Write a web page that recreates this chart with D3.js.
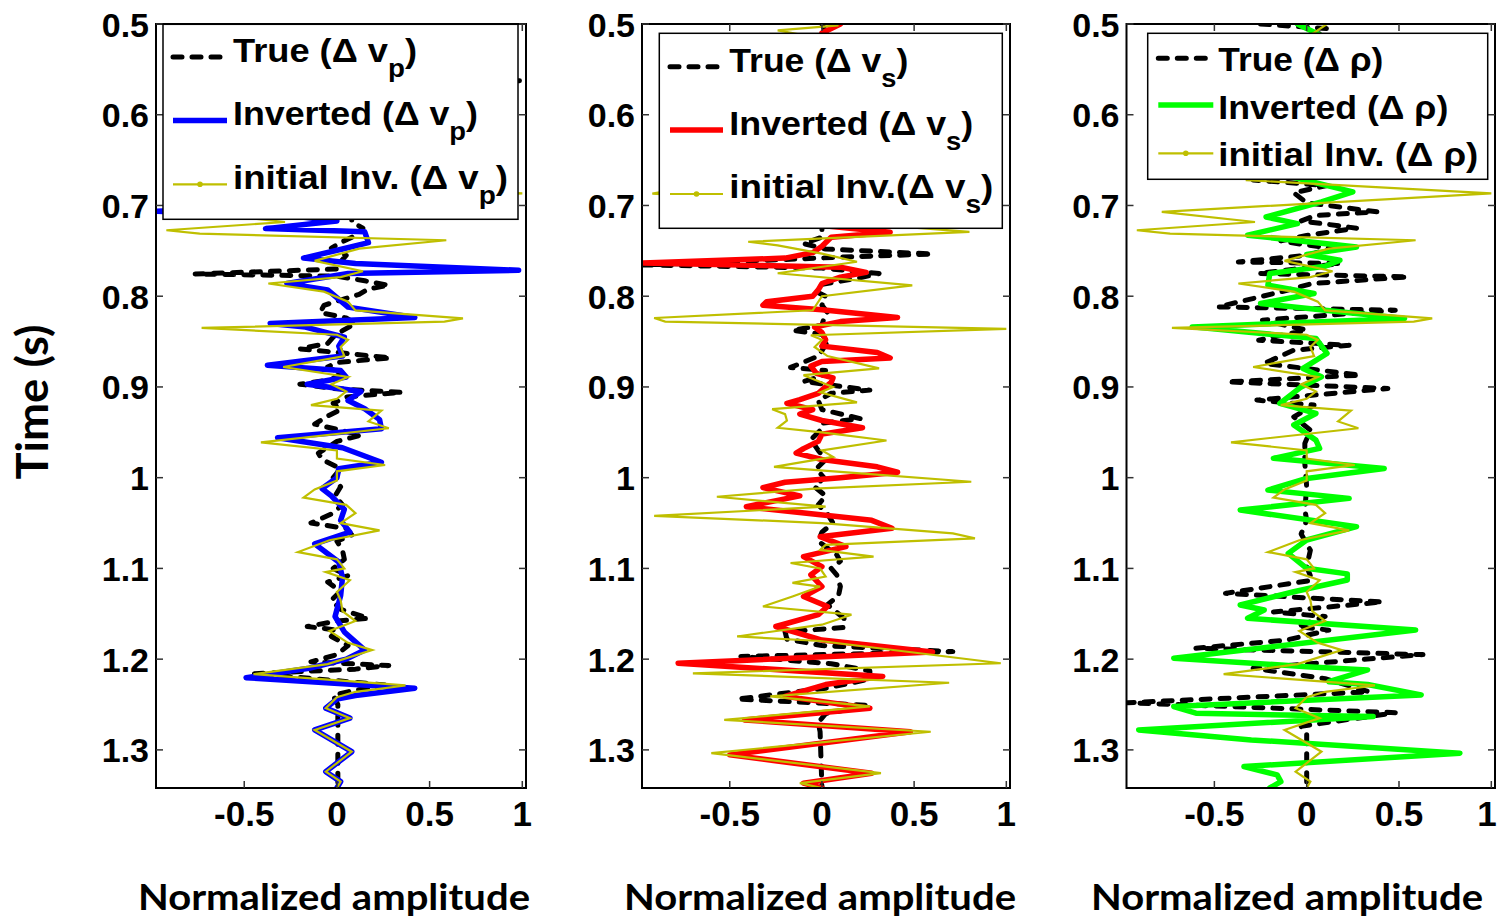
<!DOCTYPE html>
<html><head><meta charset="utf-8">
<script src="https://cdnjs.cloudflare.com/ajax/libs/d3/7.8.5/d3.min.js"></script>
<style>body{margin:0;background:#fff}svg{display:block}</style>
</head><body><svg id="c" width="1499" height="918"></svg>
<script>
// ---------------- DATA (time [s], normalized amplitude) ----------------
const yTicks = [0.5,0.6,0.7,0.8,0.9,1.0,1.1,1.2,1.3];
const yTickLabels = ["0.5","0.6","0.7","0.8","0.9","1","1.1","1.2","1.3"];
const xTicks = [-0.5,0,0.5,1];
const xTickLabels = ["-0.5","0","0.5","1"];

const trueVp = [[0.50,0.02],[0.53,-0.10],[0.545,0.15],[0.560,0.30],[0.5625,1.0],[0.565,0.05],[0.60,-0.2],[0.63,0.10],[0.66,-0.15],[0.69,0.12],[0.712,0.08],
[0.718,0.08],[0.725,0.14],[0.733,0.10],[0.740,0.03],[0.747,-0.03],[0.755,0.05],[0.762,0.02],[0.770,0.0],[0.7755,-0.765],[0.778,0.0],[0.783,0.15],[0.788,0.28],[0.792,0.17],[0.798,0.12],[0.803,0.04],[0.810,-0.07],[0.818,-0.09],[0.824,0.05],[0.830,0.10],[0.838,0.03],[0.845,-0.02],[0.852,-0.05],[0.858,-0.2],[0.862,0.0],[0.868,0.29],[0.873,0.0],[0.878,-0.05],[0.885,0.02],[0.892,-0.03],[0.897,-0.2],[0.902,0.0],[0.906,0.35],[0.911,0.05],[0.918,-0.02],[0.925,0.02],[0.932,-0.05],[0.941,-0.12],[0.953,0.13],[0.960,0.0],[0.973,-0.10],[0.980,-0.08],[0.990,0.02],[1.0,-0.02],[1.01,0.02],[1.02,-0.01],[1.03,0.03],[1.04,-0.03],[1.05,-0.14],[1.056,0.05],[1.063,0.08],[1.070,0.0],[1.08,0.03],[1.09,0.04],[1.10,-0.02],[1.108,0.06],[1.115,-0.05],[1.125,0.02],[1.135,-0.03],[1.145,0.02],[1.155,0.17],[1.158,0.0],[1.164,-0.16],[1.168,0.0],[1.175,-0.03],[1.185,0.06],[1.195,0.0],[1.203,-0.14],[1.207,0.28],[1.211,0.1],[1.216,-0.45],[1.222,-0.1],[1.229,0.29],[1.234,0.1],[1.24,-0.02],[1.25,0.005],[1.342,0.005]];

const invVp = [[0.50,0.0],[0.52,0.12],[0.545,-0.2],[0.57,0.25],[0.60,-0.15],[0.63,0.2],[0.66,-0.25],[0.685,0.15],[0.70,-0.3],[0.7065,-0.97],[0.7125,-0.2],[0.717,0.0],[0.7255,-0.385],[0.729,0.15],[0.741,0.17],[0.748,0.03],[0.758,-0.18],[0.764,0.1],[0.7714,0.98],[0.775,0.06],[0.786,-0.27],[0.793,-0.05],[0.812,0.06],[0.8235,0.42],[0.830,-0.36],[0.834,-0.17],[0.845,0.04],[0.855,0.01],[0.866,0.03],[0.876,-0.375],[0.882,0.02],[0.889,0.05],[0.897,-0.16],[0.905,0.13],[0.915,0.06],[0.924,0.15],[0.936,0.23],[0.946,0.24],[0.956,-0.32],[0.967,0.03],[0.983,0.24],[0.99,0.01],[1.0,0.0],[1.012,-0.08],[1.02,-0.03],[1.035,0.04],[1.047,0.02],[1.06,0.07],[1.073,-0.12],[1.093,0.01],[1.11,0.03],[1.13,0.02],[1.153,-0.01],[1.17,0.04],[1.19,0.15],[1.20,0.05],[1.21,-0.15],[1.2204,-0.49],[1.232,0.42],[1.24,0.1],[1.244,0.0],[1.254,-0.06],[1.265,0.07],[1.278,-0.12],[1.302,0.08],[1.324,-0.06],[1.335,0.02],[1.342,0.0]];

const initVp = [[0.500,0.11],[0.515,0.0],[0.53,-0.15],[0.55,0.2],[0.575,-0.25],[0.60,0.18],[0.625,-0.12],[0.65,0.22],[0.66,0.0],[0.672,-0.33],[0.6866,1.0],[0.7071,-0.785],[0.7182,-0.28],[0.7273,-0.92],[0.731,-0.74],[0.7383,0.59],[0.7475,0.12],[0.761,-0.12],[0.7725,0.14],[0.779,0.02],[0.786,-0.37],[0.795,-0.07],[0.806,0.06],[0.8156,0.10],[0.8245,0.68],[0.828,0.58],[0.835,-0.73],[0.8425,0.0],[0.848,0.06],[0.856,0.02],[0.866,0.04],[0.878,-0.29],[0.889,0.06],[0.897,-0.03],[0.905,0.05],[0.913,0.0],[0.92,-0.14],[0.926,0.24],[0.938,0.17],[0.9455,0.28],[0.961,-0.41],[0.97,0.0],[0.979,0.0],[0.986,0.26],[0.993,0.0],[1.003,0.0],[1.013,-0.12],[1.022,-0.18],[1.03,0.05],[1.039,0.10],[1.05,0.02],[1.058,0.23],[1.069,-0.04],[1.082,-0.21],[1.09,0.0],[1.10,0.04],[1.104,-0.06],[1.113,0.07],[1.126,0.0],[1.135,0.02],[1.147,0.03],[1.158,0.10],[1.169,-0.04],[1.182,0.06],[1.19,0.19],[1.2055,-0.05],[1.2165,-0.45],[1.229,0.37],[1.236,0.1],[1.242,0.0],[1.254,-0.06],[1.265,0.07],[1.278,-0.12],[1.302,0.08],[1.324,-0.06],[1.335,0.02],[1.342,0.0]];

const trueVs = [[0.5,0.0],[0.52,0.05],[0.55,-0.1],[0.58,0.1],[0.62,-0.05],[0.66,0.08],[0.70,-0.1],[0.72,0.0],[0.735,0.0],[0.742,-0.1],[0.748,0.02],[0.7535,0.6],[0.757,0.1],[0.762,-0.5],[0.7655,-0.97],[0.769,0.0],[0.775,0.31],[0.78,0.2],[0.787,0.0],[0.795,-0.03],[0.80,0.02],[0.81,0.0],[0.818,0.03],[0.825,0.01],[0.832,0.0],[0.8375,-0.16],[0.842,0.0],[0.85,0.03],[0.86,0.0],[0.866,-0.02],[0.8785,-0.17],[0.882,0.02],[0.888,0.0],[0.894,-0.1],[0.9035,0.26],[0.907,0.05],[0.915,-0.02],[0.925,0.0],[0.935,0.21],[0.94,0.0],[0.948,-0.01],[0.958,-0.06],[0.97,-0.02],[0.98,0.02],[0.99,-0.03],[1.0,0.01],[1.01,-0.04],[1.02,0.02],[1.03,-0.02],[1.04,0.03],[1.05,0.06],[1.06,0.0],[1.07,-0.02],[1.085,0.08],[1.092,0.10],[1.10,0.05],[1.107,0.08],[1.12,0.10],[1.13,0.09],[1.14,0.03],[1.155,0.12],[1.165,0.12],[1.17,-0.2],[1.178,-0.19],[1.185,0.0],[1.1917,0.71],[1.197,-0.44],[1.205,0.05],[1.213,0.26],[1.222,0.26],[1.232,0.02],[1.244,-0.46],[1.251,0.26],[1.26,0.02],[1.27,-0.02],[1.28,-0.01],[1.342,0.0]];

const invVs = [[0.50,0.10],[0.51,0.0],[0.53,0.2],[0.56,-0.3],[0.59,0.25],[0.62,-0.2],[0.65,0.3],[0.68,-0.25],[0.70,0.2],[0.715,-0.1],[0.722,0.0],[0.7295,0.37],[0.735,0.05],[0.745,0.0],[0.752,-0.05],[0.758,-0.2],[0.7635,-0.97],[0.768,0.1],[0.7737,0.24],[0.779,0.1],[0.786,0.0],[0.793,-0.02],[0.80,-0.05],[0.806,-0.3],[0.810,-0.32],[0.815,0.0],[0.8235,0.41],[0.828,0.1],[0.834,-0.04],[0.84,0.0],[0.848,0.02],[0.855,0.0],[0.862,0.3],[0.868,0.37],[0.872,0.0],[0.877,-0.06],[0.885,-0.03],[0.89,0.06],[0.895,0.05],[0.90,0.02],[0.907,-0.02],[0.914,-0.12],[0.918,-0.19],[0.925,-0.05],[0.93,-0.12],[0.937,0.0],[0.945,0.22],[0.952,0.0],[0.96,-0.02],[0.968,-0.1],[0.973,-0.14],[0.98,0.0],[0.988,0.3],[0.994,0.41],[1.0,0.1],[1.005,-0.2],[1.011,-0.32],[1.02,-0.12],[1.032,-0.41],[1.047,0.27],[1.0558,0.38],[1.065,-0.01],[1.076,0.13],[1.087,-0.1],[1.098,0.0],[1.107,-0.06],[1.12,0.0],[1.131,-0.1],[1.142,0.03],[1.151,-0.02],[1.164,-0.25],[1.179,0.0],[1.192,0.6],[1.2045,-0.78],[1.219,0.33],[1.228,0.02],[1.241,-0.2],[1.254,0.26],[1.267,-0.42],[1.28,0.48],[1.3055,-0.5],[1.3257,0.27],[1.3367,-0.1],[1.342,0.0]];

const initVs = [[0.5015,0.09],[0.507,-0.24],[0.52,0.1],[0.55,-0.3],[0.58,0.3],[0.61,-0.25],[0.64,0.35],[0.665,-0.3],[0.687,-0.92],[0.70,0.2],[0.715,-0.1],[0.729,0.8],[0.74,-0.4],[0.744,-0.24],[0.753,0.0],[0.762,0.19],[0.7747,-0.24],[0.788,0.49],[0.80,0.0],[0.8155,-0.05],[0.824,-0.91],[0.828,-0.85],[0.836,1.0],[0.843,-0.06],[0.848,0.0],[0.856,-0.04],[0.866,0.03],[0.8796,0.31],[0.887,-0.1],[0.90,0.06],[0.906,-0.01],[0.917,0.19],[0.9245,-0.27],[0.93,-0.2],[0.937,-0.19],[0.945,-0.24],[0.95,0.0],[0.959,0.35],[0.97,0.0],[0.977,0.06],[0.988,-0.26],[0.995,0.19],[1.0045,0.81],[1.012,-0.04],[1.021,-0.57],[1.032,0.02],[1.042,-0.91],[1.05,0.0],[1.0613,0.71],[1.0668,0.83],[1.074,0.02],[1.0796,-0.01],[1.087,0.28],[1.094,-0.17],[1.10,-0.01],[1.109,0.02],[1.116,-0.16],[1.12,-0.01],[1.131,-0.16],[1.142,-0.32],[1.151,0.16],[1.162,0.0],[1.175,-0.46],[1.18,-0.01],[1.2045,0.97],[1.2156,-0.70],[1.226,0.69],[1.241,-0.28],[1.252,0.26],[1.267,-0.53],[1.28,0.59],[1.3036,-0.6],[1.3257,0.32],[1.3367,-0.12],[1.342,0.0]];

const trueRho = [[0.5,-0.25],[0.505,0.11],[0.52,0.0],[0.55,-0.3],[0.58,0.25],[0.61,-0.2],[0.64,0.3],[0.66,-0.1],[0.672,-0.29],[0.678,0.11],[0.686,-0.07],[0.697,0.0],[0.707,0.38],[0.711,0.05],[0.717,-0.03],[0.725,0.27],[0.733,0.0],[0.739,-0.14],[0.743,-0.02],[0.747,0.14],[0.755,0.0],[0.7622,-0.37],[0.764,0.18],[0.775,-0.26],[0.7787,0.55],[0.786,0.03],[0.7952,-0.14],[0.8118,-0.48],[0.8154,0.48],[0.8264,-0.24],[0.8374,0.0],[0.8485,-0.26],[0.854,0.23],[0.8595,-0.07],[0.8741,-0.23],[0.887,0.29],[0.8944,-0.43],[0.9017,0.44],[0.9145,-0.27],[0.92,0.04],[0.9329,-0.07],[0.9476,0.02],[0.9622,-0.01],[0.9843,-0.01],[1.01,0.0],[1.0355,-0.01],[1.047,0.0],[1.062,-0.03],[1.08,0.02],[1.098,0.0],[1.113,0.03],[1.1275,-0.44],[1.137,0.41],[1.148,-0.18],[1.153,0.1],[1.164,-0.05],[1.168,0.12],[1.179,-0.11],[1.188,-0.6],[1.195,0.63],[1.21,-0.29],[1.2215,0.1],[1.236,0.34],[1.248,-0.97],[1.259,0.48],[1.274,-0.03],[1.282,0.0],[1.342,0.0]];

const invRho = [[0.5,-0.05],[0.52,0.15],[0.55,-0.2],[0.58,0.2],[0.61,-0.25],[0.64,0.2],[0.665,-0.15],[0.6851,0.25],[0.6961,0.08],[0.7127,-0.22],[0.72,-0.05],[0.7328,-0.32],[0.7457,0.27],[0.754,0.0],[0.7604,0.18],[0.767,0.1],[0.775,-0.2],[0.7879,-0.21],[0.797,0.04],[0.808,-0.25],[0.8246,0.53],[0.8338,-0.62],[0.8466,0.05],[0.8631,0.11],[0.8796,-0.02],[0.8889,0.08],[0.90,-0.03],[0.9182,-0.145],[0.9292,0.05],[0.942,-0.07],[0.9586,0.05],[0.9677,0.07],[0.9787,-0.18],[0.9898,0.42],[1.0008,0.0],[1.0137,-0.21],[1.0228,0.23],[1.0357,-0.36],[1.054,0.27],[1.0687,0.0],[1.0834,-0.1],[1.0999,0.0],[1.106,0.22],[1.1128,0.22],[1.1257,-0.07],[1.1403,-0.36],[1.1458,-0.23],[1.155,-0.32],[1.1678,0.59],[1.199,-0.72],[1.2083,0.0],[1.2119,0.33],[1.2248,0.12],[1.228,0.33],[1.2394,0.62],[1.2523,-0.72],[1.2596,-0.6],[1.2633,0.36],[1.278,-0.91],[1.289,-0.3],[1.3036,0.83],[1.3184,-0.34],[1.3275,-0.16],[1.335,-0.14],[1.342,-0.2]];

const initRho = initVp.map(d => [d[0], d[1]]); // same initial trace as in the v_p panel

const legendRows = [
  [{m:"True (Δ v",s:"p",e:")"},{m:"Inverted (Δ v",s:"p",e:")"},{m:"initial Inv. (Δ v",s:"p",e:")"}],
  [{m:"True (Δ v",s:"s",e:")"},{m:"Inverted (Δ v",s:"s",e:")"},{m:"initial Inv.(Δ v",s:"s",e:")"}],
  [{m:"True (Δ ρ)",s:"",e:""},{m:"Inverted (Δ ρ)",s:"",e:""},{m:"initial Inv. (Δ ρ)",s:"",e:""}]
];
const invColors = ["#0000ff","#ff0000","#00ff00"];
const seriesByPanel = [[trueVp,invVp,initVp],[trueVs,invVs,initVs],[trueRho,invRho,initRho]];

// ---------------- LAYOUT ----------------
const TOP = 24, BOTTOM = 788;
const panels = [
  {left:156, right:526, lab:334,
   leg:{x:163,y:24.3,w:355,h:195,s1:173,s2:227,tx:233,base:[61.7,125,189],ly:[57,120.5,184.3],len:[184,245,275]}},
  {left:642, right:1010, lab:820,
   leg:{x:659.3,y:33.3,w:343,h:195,s1:670,s2:723,tx:729.3,base:[71.7,135,198.3],ly:[66.7,130,194],len:[179,244,264]}},
  {left:1126.5, right:1495, lab:1287,
   leg:{x:1147.7,y:33.3,w:340,h:146,s1:1158.3,s2:1213.3,tx:1218.3,base:[71,119,165.7],ly:[58.3,105,153.3],len:[165,230,260]}}
];
const XDOM = [-0.976, 1.02], YDOM = [0.5, 1.342];
const INIT_COLOR = "#bfbf00";
const NUMFONT = "'Liberation Sans', Arial, sans-serif";
const LABFONT = "Lato, 'Open Sans', sans-serif";

const svg = d3.select("#c");
svg.append("rect").attr("width",1499).attr("height",918).attr("fill","#fff");
const y = d3.scaleLinear().domain(YDOM).range([TOP, BOTTOM]);

panels.forEach((p, i) => {
  const x = d3.scaleLinear().domain(XDOM).range([p.left, p.right]);
  const g = svg.append("g");
  const cid = "clip" + i;
  svg.append("defs").append("clipPath").attr("id", cid)
    .append("rect").attr("x", p.left).attr("y", TOP).attr("width", p.right - p.left).attr("height", BOTTOM - TOP);
  const line = d3.line().x(d => x(d[1])).y(d => y(d[0]));
  const [tr, inv, ini] = seriesByPanel[i];
  const lg = g.append("g").attr("clip-path", `url(#${cid})`);
  lg.append("path").attr("d", line(tr)).attr("fill","none").attr("stroke","#000")
    .attr("stroke-width",5).attr("stroke-dasharray","9,10").attr("stroke-linecap","round").attr("stroke-linejoin","round");
  lg.append("path").attr("d", line(inv)).attr("fill","none").attr("stroke",invColors[i])
    .attr("stroke-width",5.5).attr("stroke-linejoin","round").attr("stroke-linecap","round");
  lg.append("path").attr("d", line(ini)).attr("fill","none").attr("stroke",INIT_COLOR)
    .attr("stroke-width",2.2).attr("stroke-linejoin","miter");

  // axes box
  g.append("rect").attr("x",p.left).attr("y",TOP).attr("width",p.right-p.left).attr("height",BOTTOM-TOP)
    .attr("fill","none").attr("stroke","#000").attr("stroke-width",2);
  const tl = 7;
  yTicks.forEach((t, k) => {
    g.append("line").attr("x1",p.left).attr("x2",p.left+tl).attr("y1",y(t)).attr("y2",y(t)).attr("stroke","#333").attr("stroke-width",1.5);
    g.append("line").attr("x1",p.right).attr("x2",p.right-tl).attr("y1",y(t)).attr("y2",y(t)).attr("stroke","#333").attr("stroke-width",1.5);
    g.append("text").attr("x",p.left-7).attr("y",y(t)+12.5).attr("text-anchor","end")
      .attr("font-family",NUMFONT).attr("font-weight","bold").attr("font-size",34).text(yTickLabels[k]);
  });
  xTicks.forEach((v, k) => {
    g.append("line").attr("x1",x(v)).attr("x2",x(v)).attr("y1",BOTTOM).attr("y2",BOTTOM-tl).attr("stroke","#333").attr("stroke-width",1.5);
    g.append("line").attr("x1",x(v)).attr("x2",x(v)).attr("y1",TOP).attr("y2",TOP+tl).attr("stroke","#333").attr("stroke-width",1.5);
    const lx = Math.min(x(v), 1487);
    g.append("text").attr("x",lx).attr("y",826).attr("text-anchor","middle")
      .attr("font-family",NUMFONT).attr("font-weight","bold").attr("font-size",35).text(xTickLabels[k]);
  });
  g.append("text").attr("x",p.lab).attr("y",910).attr("text-anchor","middle")
    .attr("font-family",LABFONT).attr("font-weight","bold").attr("font-size",36)
    .attr("textLength",392).attr("lengthAdjust","spacingAndGlyphs").text("Normalized amplitude");

  // legend
  const L = p.leg;
  g.append("rect").attr("x",L.x).attr("y",L.y).attr("width",L.w).attr("height",L.h)
    .attr("fill","#fff").attr("stroke","#000").attr("stroke-width",1.5);
  [0,1,2].forEach(r => {
    const ly = L.ly[r];
    if (r === 0) {
      g.append("line").attr("x1",L.s1).attr("x2",L.s2).attr("y1",ly).attr("y2",ly).attr("stroke","#000")
        .attr("stroke-width",5).attr("stroke-dasharray","9,10").attr("stroke-linecap","round");
    } else if (r === 1) {
      g.append("line").attr("x1",L.s1).attr("x2",L.s2).attr("y1",ly).attr("y2",ly).attr("stroke",invColors[i]).attr("stroke-width",5.5);
    } else {
      g.append("line").attr("x1",L.s1).attr("x2",L.s2).attr("y1",ly).attr("y2",ly).attr("stroke",INIT_COLOR).attr("stroke-width",2.2);
      g.append("circle").attr("cx",(L.s1+L.s2)/2).attr("cy",ly).attr("r",2.8).attr("fill",INIT_COLOR);
    }
    const item = legendRows[i][r];
    const t = g.append("text").attr("x",L.tx).attr("y",L.base[r]).attr("font-family",NUMFONT)
      .attr("font-weight","bold").attr("font-size",34).attr("textLength",L.len[r]).attr("lengthAdjust","spacingAndGlyphs");
    t.append("tspan").text(item.m);
    if (item.s) {
      t.append("tspan").attr("dy",15).attr("font-size",26).text(item.s);
      t.append("tspan").attr("dy",-15).text(item.e);
    }
  });
});

svg.append("text").attr("transform","translate(48,402) rotate(-90)").attr("text-anchor","middle")
  .attr("font-family",LABFONT).attr("font-weight","bold").attr("font-size",43)
  .attr("textLength",155).attr("lengthAdjust","spacingAndGlyphs").text("Time (s)");
</script></body></html>
